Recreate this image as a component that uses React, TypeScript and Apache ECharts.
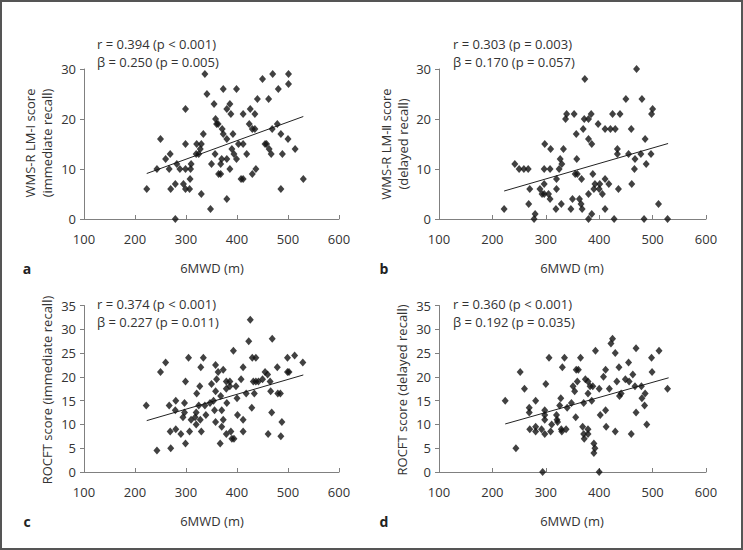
import React, { useEffect, useRef } from "react";
import * as echarts from "echarts";

// Panel a: 6MWD vs WMS-R LM-I (immediate recall)
const pointsA: [number, number][] = [
  [337, 29], [470, 29], [501, 29], [450, 28], [501, 27], [481, 26], [341, 25], [373, 26], [399, 26],
  [440, 24], [462, 24], [355, 23], [386, 23], [299, 22], [380, 22], [426, 22], [388, 21], [412, 21],
  [435, 21], [358, 20], [360, 19], [363, 19], [424, 19], [479, 19], [371, 18], [430, 18], [435, 18],
  [469, 18], [334, 17], [373, 17], [392, 17], [486, 17], [250, 16], [380, 16], [500, 16], [299, 15],
  [321, 15], [330, 15], [403, 15], [412, 15], [455, 15], [458, 15], [328, 14], [390, 14], [463, 14],
  [514, 14], [269, 13], [320, 13], [325, 13], [357, 13], [394, 13], [419, 13], [467, 13], [489, 13],
  [260, 12], [370, 12], [380, 12], [399, 12], [282, 11], [310, 11], [350, 11], [368, 11], [243, 10],
  [267, 10], [288, 10], [299, 10], [309, 10], [386, 10], [437, 10], [364, 9], [368, 9], [430, 9],
  [308, 8], [408, 8], [412, 8], [530, 8], [279, 7], [295, 7], [223, 6], [270, 6], [299, 6], [307, 6],
  [486, 6], [330, 5], [380, 4], [348, 2], [279, 0],
];

// Panel b: 6MWD vs WMS-R LM-II (delayed recall)
const pointsB: [number, number][] = [
  [470, 30], [373, 28], [450, 24], [480, 24], [500, 22], [339, 21], [353, 21], [385, 21], [425, 21],
  [439, 21], [498, 21], [337, 20], [372, 20], [380, 20], [398, 19], [370, 18], [411, 18], [421, 18],
  [430, 18], [460, 18], [357, 17], [380, 16], [486, 16], [386, 15], [298, 15], [309, 14], [333, 14],
  [434, 14], [327, 12], [358, 12], [434, 13], [455, 13], [478, 13], [497, 13], [467, 12], [242, 11],
  [330, 11], [488, 11], [250, 10], [259, 10], [267, 10], [297, 10], [308, 10], [325, 10], [466, 10],
  [355, 9], [359, 9], [388, 9], [320, 8], [367, 8], [411, 8], [270, 6], [289, 6], [320, 6], [390, 6],
  [400, 6], [436, 6], [297, 7], [392, 7], [401, 7], [418, 7], [461, 7], [293, 5], [297, 5], [305, 5],
  [380, 5], [406, 5], [308, 4], [350, 4], [363, 4], [268, 3], [329, 3], [366, 3], [511, 3], [222, 2],
  [319, 2], [347, 2], [368, 2], [411, 2], [280, 1], [386, 1], [278, 0], [380, 0], [428, 0], [484, 0],
  [528, 0],
];

// Panel c: 6MWD vs ROCFT (immediate recall)
const pointsC: [number, number][] = [
  [426, 32], [423, 27.5], [469, 28], [393, 25.5], [513, 24.5], [260, 23], [305, 24], [334, 24],
  [430, 24], [437, 24], [499, 24], [529, 23], [250, 21], [329, 22], [358, 22.5], [373, 21.5], [412, 22],
  [479, 22], [363, 21], [455, 21], [499, 21], [502, 21], [460, 20.5], [360, 19.5], [408, 19.5],
  [450, 19.5], [299, 19], [379, 19], [386, 19], [432, 19], [437, 19], [442, 19], [350, 18.5], [465, 19],
  [327, 18], [386, 18], [398, 18], [379, 17.5], [358, 17], [466, 17], [321, 16.5], [418, 16.5],
  [434, 16.5], [480, 16.5], [485, 16.5], [368, 16], [400, 15.5], [280, 15], [354, 15], [297, 14.5],
  [347, 14.5], [380, 14.5], [222, 14], [267, 14], [325, 14], [337, 14], [279, 13], [356, 13], [370, 13],
  [429, 13.5], [320, 12.5], [297, 12.5], [468, 12.5], [339, 12], [294, 11.5], [318, 11.5], [401, 12],
  [310, 11], [328, 11], [373, 11], [412, 11], [320, 10], [358, 10.5], [488, 10.5], [370, 9.5],
  [269, 8.5], [307, 8.5], [330, 8.5], [388, 8.5], [412, 8.5], [280, 9], [290, 8], [379, 8], [461, 8],
  [486, 7.5], [390, 7], [394, 7], [299, 6], [367, 6], [270, 5], [243, 4.5],
];

// Panel d: 6MWD vs ROCFT (delayed recall)
const pointsD: [number, number][] = [
  [425, 28], [422, 27], [430, 25], [393, 25.5], [469, 26], [512, 25.5], [306, 24], [335, 24], [365, 24],
  [498, 24], [331, 22], [437, 22], [455, 23], [252, 21], [357, 21.5], [361, 21.5], [412, 21.5],
  [499, 21], [463, 20.5], [408, 20], [300, 18.5], [374, 19.5], [379, 19], [359, 19], [433, 19],
  [449, 19.5], [456, 19], [351, 18], [383, 18], [388, 18], [400, 17.5], [419, 17.5], [467, 18], [479, 18],
  [260, 17.5], [354, 17], [379, 16.5], [438, 16], [441, 16.5], [486, 16.5], [528, 17.5], [224, 15],
  [281, 15], [328, 15.5], [386, 15], [480, 15.5], [348, 14.5], [371, 14.5], [326, 14], [485, 14],
  [269, 13.5], [340, 13.5], [269, 12.5], [298, 13], [412, 13], [298, 12], [320, 12], [402, 12],
  [469, 12.5], [298, 11], [321, 11], [356, 11.5], [322, 10.5], [311, 10], [489, 10], [270, 9],
  [281, 9.5], [292, 9], [281, 8.5], [329, 9], [338, 9], [369, 9.5], [379, 9], [413, 9.5], [298, 8],
  [309, 8.5], [330, 8.5], [371, 8], [379, 8], [430, 8.5], [460, 8], [372, 7], [390, 6], [392, 5],
  [390, 4], [244, 5], [294, 0], [400, 0],
];

// Regression line end points
const regA: [number, number][] = [[223, 9.1], [530, 20.5]];
const regB: [number, number][] = [[222, 5.6], [529, 15.1]];
const regC: [number, number][] = [[223, 10.8], [530, 20.4]];
const regD: [number, number][] = [[224, 10.1], [530, 19.8]];

const statsA = ["r = 0.394 (p < 0.001)", "β = 0.250 (p = 0.005)"];
const statsB = ["r = 0.303 (p = 0.003)", "β = 0.170 (p = 0.057)"];
const statsC = ["r = 0.374 (p < 0.001)", "β = 0.227 (p = 0.011)"];
const statsD = ["r = 0.360 (p < 0.001)", "β = 0.192 (p = 0.035)"];

const xName = "6MWD (m)";
const yNameA = ["WMS-R LM-I score", "(immediate recall)"];
const yNameB = ["WMS-R LM-Ⅱ score", "(delayed recall)"];
const yNameC = "ROCFT score (immediate recall)";
const yNameD = "ROCFT score (delayed recall)";
const panelLetters = ["a", "b", "c", "d"];

const FONT = "'Open Sans', 'Noto Sans', sans-serif";
const TXT = "#333";
const AXIS = "#808080";
const FS = 13;

export default function App() {
  const ref = useRef<HTMLDivElement>(null);
  useEffect(() => {
    document.body.style.margin = "0";
    const chart = echarts.init(ref.current!, null, { renderer: "svg" });

    const grids = [
      { left: 84, top: 69, width: 255, height: 150 },
      { left: 439, top: 69, width: 267, height: 150 },
      { left: 84, top: 305.5, width: 255, height: 166.5 },
      { left: 439, top: 305.5, width: 267, height: 166.5 },
    ];
    const yMax = [30, 30, 35, 35];
    const yInt = [10, 10, 5, 5];
    const pts = [pointsA, pointsB, pointsC, pointsD];
    const regs = [regA, regB, regC, regD];
    const stats = [statsA, statsB, statsC, statsD];

    const xAxes = grids.map((_, i) => ({
      type: "value",
      gridIndex: i,
      min: 100,
      max: 600,
      interval: 100,
      splitLine: { show: false },
      axisLine: { show: true, lineStyle: { color: AXIS, width: 1 } },
      axisTick: { show: true, inside: true, length: 4, lineStyle: { color: AXIS } },
      axisLabel: { color: TXT, fontSize: FS, fontFamily: FONT, margin: 13 },
    }));
    const yAxes = grids.map((_, i) => ({
      type: "value",
      gridIndex: i,
      min: 0,
      max: yMax[i],
      interval: yInt[i],
      splitLine: { show: false },
      axisLine: { show: true, onZero: false, lineStyle: { color: AXIS, width: 1 } },
      axisTick: { show: true, length: 4, lineStyle: { color: AXIS } },
      axisLabel: { color: TXT, fontSize: FS, fontFamily: FONT, margin: 8 },
    }));

    const series: any[] = [];
    pts.forEach((p, i) => {
      series.push({
        type: "scatter",
        xAxisIndex: i,
        yAxisIndex: i,
        data: p,
        symbol: "diamond",
        symbolSize: [7, 8],
        itemStyle: { color: "#111" },
        z: 3,
      });
      series.push({
        type: "line",
        xAxisIndex: i,
        yAxisIndex: i,
        data: regs[i],
        symbol: "none",
        lineStyle: { color: "#222", width: 1 },
        z: 2,
      });
    });

    const txt = (x: number, y: number, text: string, extra: any = {}) => ({
      type: "text",
      x,
      y,
      ...extra,
      style: {
        text,
        fill: TXT,
        fontSize: FS,
        fontFamily: FONT,
        align: "left",
        verticalAlign: "middle",
        ...(extra.style || {}),
      },
    });

    const graphics: any[] = [
      {
        type: "rect",
        shape: { x: 1, y: 1, width: 741, height: 548 },
        style: { fill: "none", stroke: "#555", lineWidth: 2 },
        z: 10,
      },
    ];
    const statX = [97, 453, 97, 453];
    const statY = [44, 44, 304, 304];
    stats.forEach((s, i) => {
      graphics.push(txt(statX[i], statY[i], s[0]));
      graphics.push(txt(statX[i], statY[i] + 18, s[1]));
    });
    const xNameX = [212, 572, 212, 572];
    const xNameY = [268, 268, 521, 521];
    const letterX = [27, 384, 27, 384];
    for (let i = 0; i < 4; i++) {
      graphics.push(txt(xNameX[i], xNameY[i], xName, { style: { align: "center" } }));
      graphics.push(
        txt(letterX[i], xNameY[i], panelLetters[i], {
          style: { align: "center", fontWeight: "bold", fontSize: 14, fill: "#222" },
        })
      );
    }
    const rot = Math.PI / 2;
    graphics.push(txt(30, 143, yNameA[0], { rotation: rot, style: { align: "center" } }));
    graphics.push(txt(47, 143, yNameA[1], { rotation: rot, style: { align: "center" } }));
    graphics.push(txt(386, 144, yNameB[0], { rotation: rot, style: { align: "center" } }));
    graphics.push(txt(403, 144, yNameB[1], { rotation: rot, style: { align: "center" } }));
    graphics.push(txt(47, 390, yNameC, { rotation: rot, style: { align: "center" } }));
    graphics.push(txt(402, 390, yNameD, { rotation: rot, style: { align: "center" } }));

    chart.setOption({
      animation: false,
      backgroundColor: "#fff",
      grid: grids,
      xAxis: xAxes,
      yAxis: yAxes,
      series,
      graphic: graphics,
    });
    return () => chart.dispose();
  }, []);
  return (
    <div
      ref={ref}
      style={{ width: 743, height: 550, position: "absolute", left: 0, top: 0, background: "#fff" }}
    />
  );
}
